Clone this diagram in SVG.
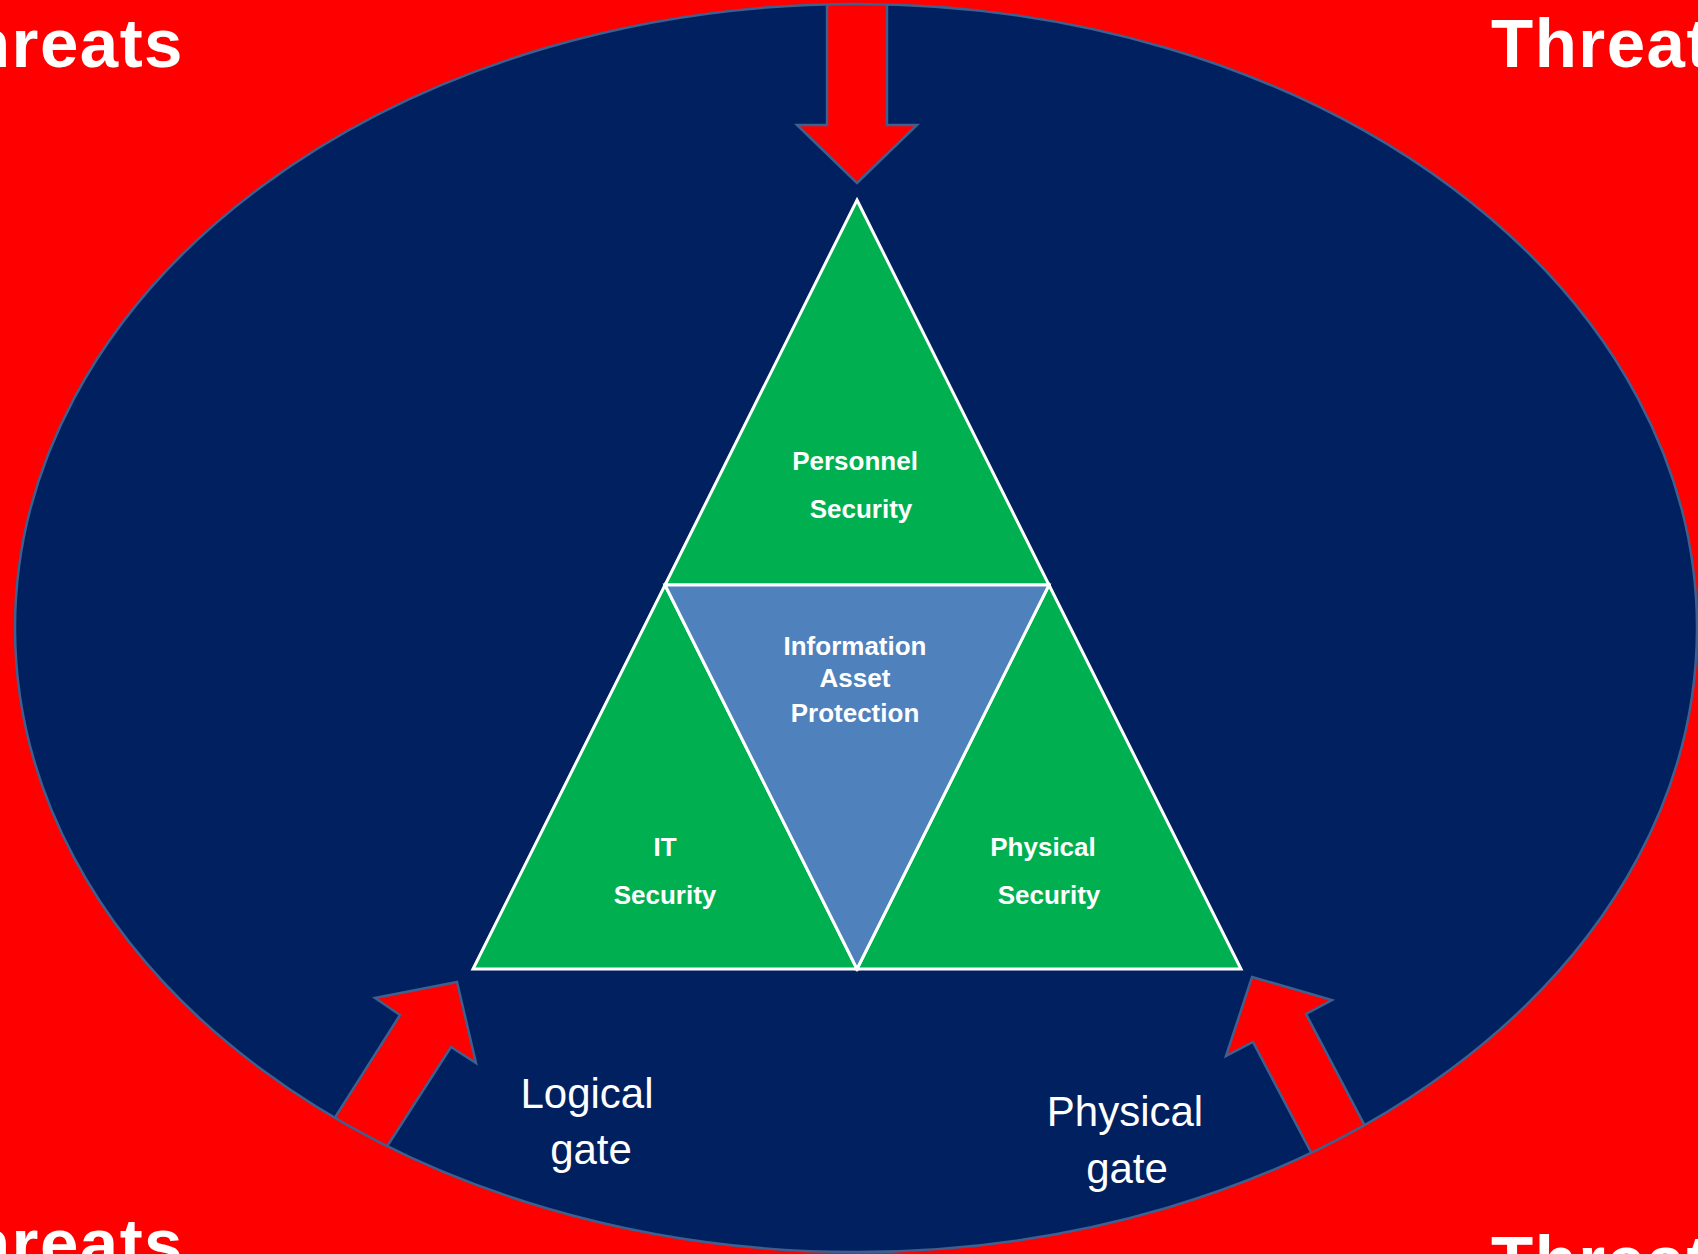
<svg xmlns="http://www.w3.org/2000/svg" width="1698" height="1254" viewBox="0 0 1698 1254">
<style>
.threat{font-family:"Liberation Sans",Arial,sans-serif;font-weight:bold;font-size:69px;letter-spacing:1.5px;fill:#fff}
.lbl{font-family:"Liberation Sans",Arial,sans-serif;font-weight:bold;font-size:26px;fill:#fff;text-anchor:middle}
.gate{font-family:"Liberation Sans",Arial,sans-serif;font-size:42px;fill:#fff;text-anchor:middle}
.arrow{fill:#ff0000;stroke:#3f5f8f;stroke-width:2.5;stroke-linejoin:miter}
.tri{stroke:#fff;stroke-width:3;stroke-linejoin:miter}
</style>
<defs>
<clipPath id="ellClip"><ellipse cx="856" cy="628" rx="841" ry="624"/></clipPath>
</defs>
<rect x="0" y="0" width="1698" height="1254" fill="#ff0000"/>
<g id="boundary">
<ellipse cx="856" cy="628" rx="841" ry="624" fill="#002060"/>
</g>
<g id="connectors" clip-path="url(#ellClip)">
<polygon class="arrow" points="827,-10 887,-10 887,125 917,125 857,183 797,125 827,125"/>
<polygon class="arrow" points="457,982 476,1063 451,1047 370,1173 320,1141 400,1015 375,998"/>
<polygon class="arrow" points="1252,977 1332,1000 1306,1014 1376,1147 1323,1175 1253,1042 1226,1056"/>
</g>
<ellipse cx="856" cy="628" rx="841" ry="624" fill="none" stroke="#3f5f8f" stroke-width="2.5"/>
<g id="personnel">
<polygon class="tri" points="857,200 1049,585 665,585" fill="#00b050"/>
<text class="lbl" x="855" y="470">Personnel</text>
<text class="lbl" x="861" y="518">Security</text>
</g>
<g id="it">
<polygon class="tri" points="665,585 857,969 473,969" fill="#00b050"/>
<text class="lbl" x="665" y="856">IT</text>
<text class="lbl" x="665" y="904">Security</text>
</g>
<g id="physical">
<polygon class="tri" points="1049,585 1241,969 857,969" fill="#00b050"/>
<text class="lbl" x="1043" y="856">Physical</text>
<text class="lbl" x="1049" y="904">Security</text>
</g>
<g id="asset">
<polygon class="tri" points="665,585 1049,585 857,969" fill="#4f81bd"/>
<text class="lbl" x="855" y="655">Information</text>
<text class="lbl" x="855" y="687">Asset</text>
<text class="lbl" x="855" y="722">Protection</text>
</g>
<g id="logical-gate">
<text class="gate" x="587" y="1108">Logical</text>
<text class="gate" x="591" y="1164">gate</text>
</g>
<g id="physical-gate">
<text class="gate" x="1125" y="1126">Physical</text>
<text class="gate" x="1127" y="1183">gate</text>
</g>
<g id="threats">
<text class="threat" x="184" y="67" text-anchor="end">Threats</text>
<text class="threat" x="1491" y="67">Threats</text>
<text class="threat" x="184" y="1267" text-anchor="end">Threats</text>
<text class="threat" x="1491" y="1284">Threats</text>
</g>
</svg>
